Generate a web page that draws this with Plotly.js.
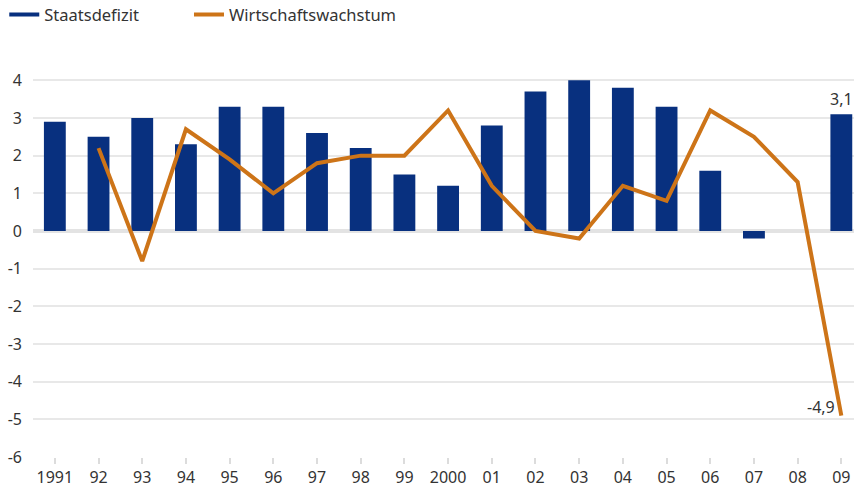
<!DOCTYPE html>
<html>
<head>
<meta charset="utf-8">
<script src="https://cdn.plot.ly/plotly-3.0.1.min.js"></script>
<style>html,body{margin:0;padding:0;background:#fff;}#chart{width:854px;height:493px;}</style>
</head>
<body>
<div id="chart"></div>
<script>
var categories = ["1991","92","93","94","95","96","97","98","99","2000","01","02","03","04","05","06","07","08","09"];
var staatsdefizit = [2.9,2.5,3.0,2.3,3.3,3.3,2.6,2.2,1.5,1.2,2.8,3.7,4.0,3.8,3.3,1.6,-0.2,null,3.1];
var wirtschaftswachstum = [null,2.2,-0.8,2.7,1.9,1.0,1.8,2.0,2.0,3.2,1.2,0.0,-0.2,1.2,0.8,3.2,2.5,1.3,-4.9];
var yTicks = [-6,-5,-4,-3,-2,-1,0,1,2,3,4];
var blue = "#08307f", orange = "#cd7418";
var fontFam = "Noto Sans, Open Sans, sans-serif";

var traces = [
  {type:"bar", x:categories, y:staatsdefizit, marker:{color:blue}, width:0.5, showlegend:false, hoverinfo:"x+y"},
  {type:"scatter", mode:"lines", x:[null], y:[null], name:"Staatsdefizit", line:{color:blue, width:4}, legend:"legend"},
  {type:"scatter", mode:"lines", x:categories, y:wirtschaftswachstum, name:"Wirtschaftswachstum", line:{color:orange, width:4}, connectgaps:false, legend:"legend2"}
];

var last = categories.length - 1;
var legendFont = {size:16.5, color:"#333"};
var layout = {
  width:854, height:493,
  margin:{l:33, r:0, t:69, b:36, autoexpand:false},
  paper_bgcolor:"#fff", plot_bgcolor:"#fff",
  font:{family:fontFam, size:15, color:"#333"},
  showlegend:true,
  legend:{orientation:"h", x:-0.035, xanchor:"left", y:1.14, yanchor:"middle", font:legendFont},
  legend2:{orientation:"h", x:0.19, xanchor:"left", y:1.14, yanchor:"middle", font:legendFont},
  xaxis:{type:"category", range:[-0.5, 18.29], showgrid:false, zeroline:false, showline:false,
         ticks:"outside", ticklen:6, tickwidth:2, tickcolor:"#dcdcdc", tickfont:{size:16, color:"#333"}, fixedrange:true},
  yaxis:{range:[-6, 4.3], tickvals:yTicks, ticktext:yTicks.map(String), showgrid:true, gridcolor:"#e8e8e8", gridwidth:2,
         zeroline:true, zerolinecolor:"#e3e3e3", zerolinewidth:4, showline:false, ticks:"", tickfont:{size:16, color:"#333"}, ticklabelstandoff:10, fixedrange:true},
  annotations:[
    {xref:"x", yref:"y", x:last, y:staatsdefizit[last], text:String(staatsdefizit[last]).replace(".",","), showarrow:false, yanchor:"bottom", yshift:2, font:{size:16, color:"#333"}},
    {xref:"x", yref:"y", x:last, y:wirtschaftswachstum[last], text:String(wirtschaftswachstum[last]).replace(".",","), showarrow:false, xanchor:"right", yanchor:"bottom", xshift:-4, yshift:-4, font:{size:16, color:"#333"}}
  ]
};
Plotly.newPlot("chart", traces, layout, {displayModeBar:false, staticPlot:true});
</script>
</body>
</html>
